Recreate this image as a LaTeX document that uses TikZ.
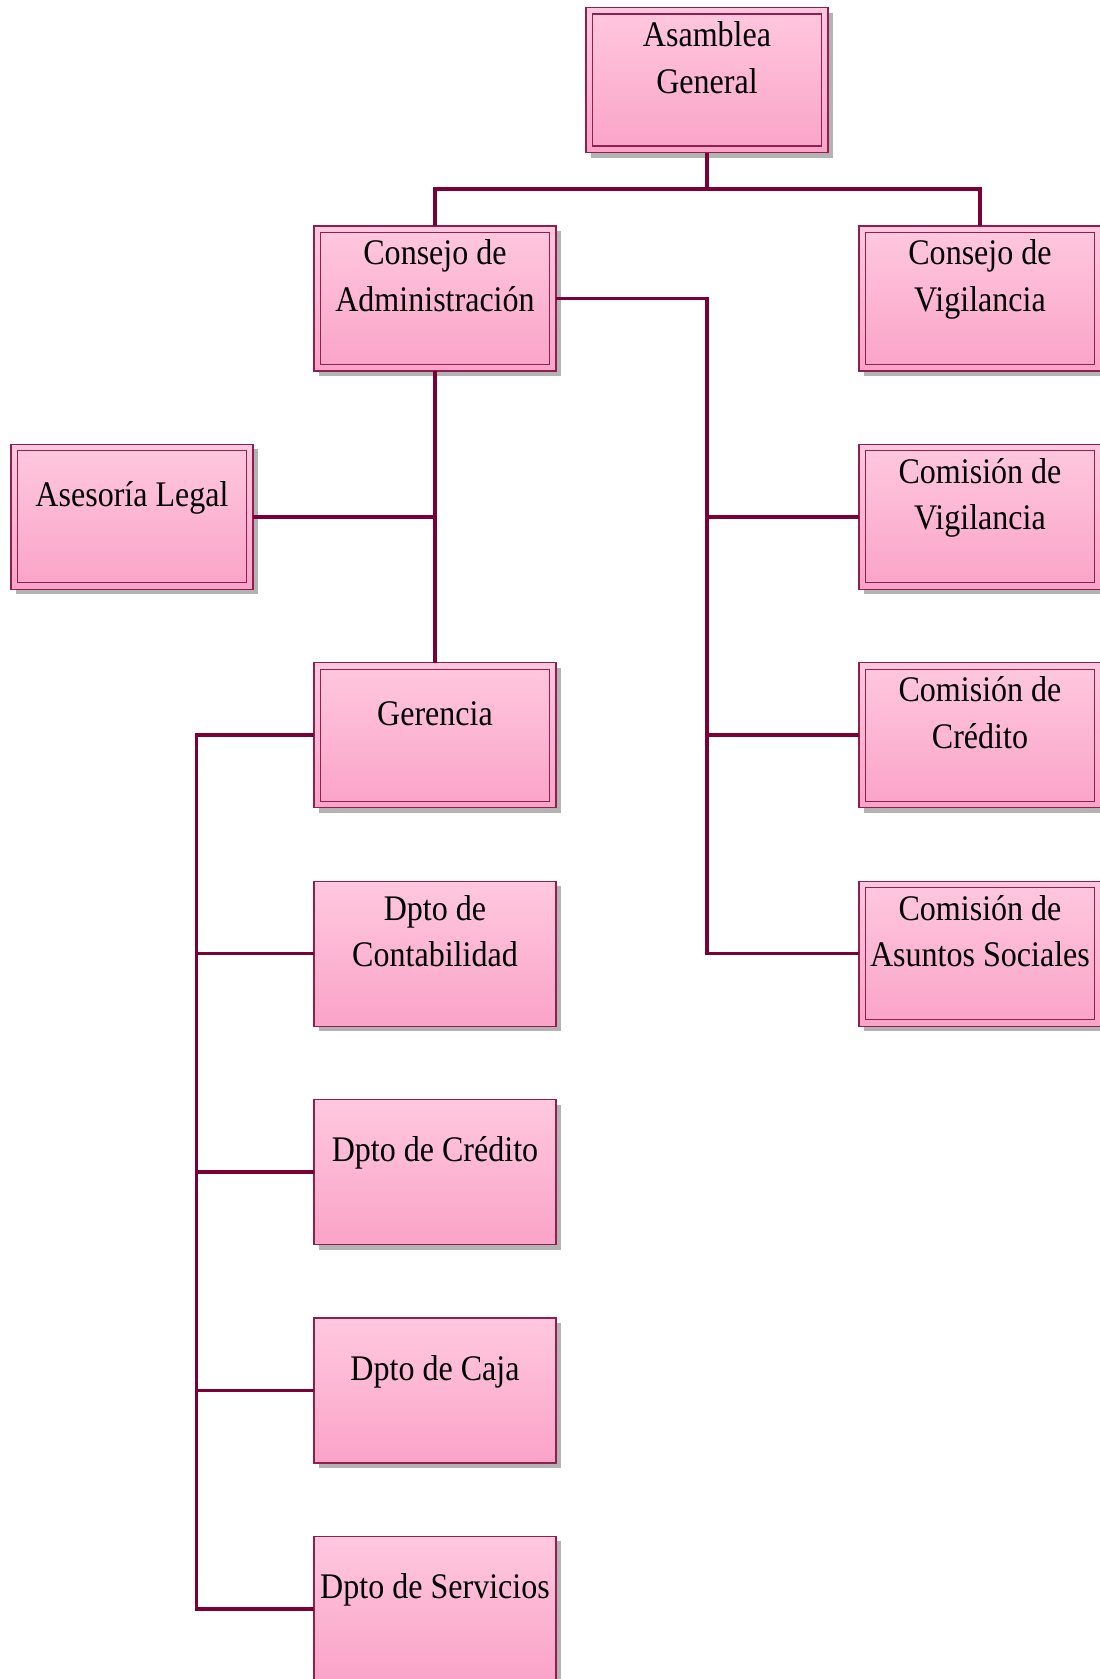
\documentclass[tikz,border=0pt]{standalone}
\usepackage{fontspec}
\setmainfont{Liberation Serif}[FakeStretch=0.89]
\usetikzlibrary{positioning,shadows}
\definecolor{rosaclaro}{HTML}{FFC8DE}
\definecolor{rosa}{HTML}{FAA3C8}
\definecolor{borde}{HTML}{8E1F50}
\definecolor{linea}{HTML}{7A0036}
\definecolor{sombra}{HTML}{B3B3B3}
\newcommand{\rotulo}[1]{\raisebox{19.5pt}[\height][\depth]{\begin{tabular}{@{}c@{}}#1\end{tabular}}}

\begin{document}
\begin{tikzpicture}[x=1pt, y=1pt, node distance=73.4pt,
  caja/.style = {draw=borde, line width=1.2pt, top color=rosaclaro, bottom color=rosa,
    minimum width=242pt, minimum height=145pt, inner sep=0pt, outer sep=0pt,
    font=\fontsize{36}{46.7}\selectfont,
    drop shadow={shadow xshift=5pt, shadow yshift=-5pt, fill=sombra, opacity=1}},
  doble/.style = {caja, path picture={\draw[borde, line width=1.2pt]
    ([shift={(6.5pt,6.5pt)}]path picture bounding box.south west) rectangle
    ([shift={(-6.5pt,-6.5pt)}]path picture bounding box.north east);}},
  enlace/.style = {draw=linea, line width=3.6pt}]
            \useasboundingbox (0,0) rectangle (1100,-1679);
            % Nodes
            \node[doble] (asamblea) at (707,-80) {\rotulo{Asamblea\\General}};
            \node[doble] (cadmin) [below=of asamblea, xshift=-272pt] {\rotulo{Consejo de\\Administración}};
            \node[doble] (cvig) [right=303pt of cadmin] {\rotulo{Consejo de\\Vigilancia}};
            \node[doble] (asesoria) [below=of cadmin, xshift=-303pt] {\rotulo{Asesoría Legal}};
            \node[doble] (comvig) [below=of cvig] {\rotulo{Comisión de\\Vigilancia}};
            \node[doble] (gerencia) [below=of asesoria, xshift=303pt] {\rotulo{Gerencia}};
            \node[doble] (comcred) [below=of comvig] {\rotulo{Comisión de\\Crédito}};
            \node[caja] (contab) [below=of gerencia] {\rotulo{Dpto de\\Contabilidad}};
            \node[doble] (comsoc) [below=of comcred] {\rotulo{Comisión de\\Asuntos Sociales}};
            \node[caja] (dcred) [below=of contab] {\rotulo{Dpto de Crédito}};
            \node[caja] (dcaja) [below=of dcred] {\rotulo{Dpto de Caja}};
            \node[caja] (dserv) [below=of dcaja] {\rotulo{Dpto de Servicios}};
            % Edges
            \draw[enlace] (asamblea.south) -- ++(0,-36.7) coordinate (bus);
            \draw[enlace] (cadmin.north) |- (bus) -| (cvig.north);
            \draw[enlace] (cadmin.east) -| (asamblea |- comsoc.west) -- (comsoc.west);
            \draw[enlace] (comvig.west) -- (asamblea |- comvig.west);
            \draw[enlace] (comcred.west) -- (asamblea |- comcred.west);
            \draw[enlace] (cadmin.south) -- (gerencia.north);
            \draw[enlace] (asesoria.east) -- (cadmin |- asesoria.east);
            \draw[enlace] (gerencia.west) -- ++(-117.6,0) coordinate (tronco) |- (dserv.west);
            \foreach \d in {contab,dcred,dcaja}
                \draw[enlace] (\d.west) -- (tronco |- \d.west);
\end{tikzpicture}
\end{document}
